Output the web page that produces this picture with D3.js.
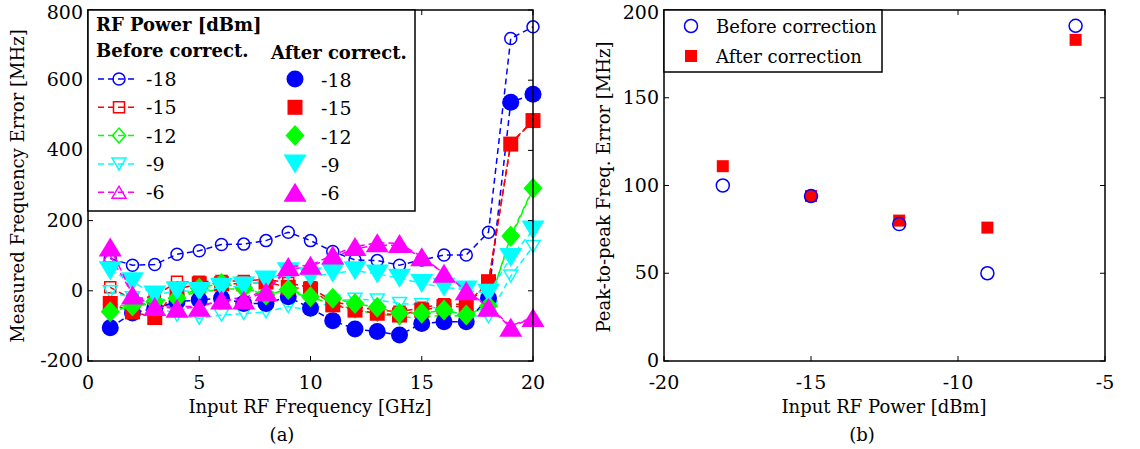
<!DOCTYPE html>
<html>
<head>
<meta charset="utf-8">
<script src="https://cdn.jsdelivr.net/npm/d3@7.9.0/dist/d3.min.js"></script>
<style>
  body { margin: 0; background: #fff; }
  svg { display: block; }
  text { font-family: "DejaVu Serif", serif; fill: #000; }
</style>
</head>
<body>
<svg id="chart" width="1140" height="449"></svg>
<script>
// ---- data (a): measured frequency error vs input RF frequency ----
const freqGHz = [1, 2, 3, 4, 5, 6, 7, 8, 9, 10, 11, 12, 13, 14, 15, 16, 17, 18, 19, 20];
const rfPowers = [-18, -15, -12, -9, -6];

const beforeM18 = [92, 73, 75, 104, 114, 132, 133, 143, 167, 143, 112, 88, 86, 73, 88, 102, 102, 167, 719, 752];
const beforeM15 = [10, -25, -15, 26, 26, 28, 28, 33, 22, 10, -30, -45, -55, -60, -48, -38, -38, 25, 420, 485];
const beforeM12 = [-40, -45, -35, -15, -5, 5, 5, -5, 0, -20, -35, -55, -65, -75, -75, -70, -72, -40, 150, 290];
const beforeM9 = [-3, -20, -40, -70, -78, -69, -65, -60, -45, -55, -30, -24, -26, -36, -40, -55, -70, -74, 42, 126];
const beforeM6 = [100, -10, -40, -45, -45, -25, -20, 0, 60, 70, 95, 120, 130, 130, 95, 50, 0, -45, -100, -75];

const afterM18 = [-105, -63, -50, -31, -26, -21, -36, -36, -17, -50, -85, -109, -116, -126, -93, -88, -88, -21, 537, 560];
const afterM15 = [-36, -60, -76, 5, 20, 20, 20, 25, 10, 5, -40, -55, -64, -69, -55, -45, -45, 26, 418, 485];
const afterM12 = [-60, -43, -31, -21, 8, 21, 8, -12, 4, -17, -21, -36, -47, -64, -64, -55, -69, -43, 156, 292];
const afterM9 = [57, 26, -12, 0, -2, 10, 14, 31, 54, 40, 50, 57, 48, 36, 21, 10, 2, -7, 95, 173];
const afterM6 = [125, -12, -45, -50, -47, -26, -26, -3, 69, 73, 102, 126, 137, 135, 97, 50, 0, -47, -104, -76];

// ---- data (b): peak-to-peak error vs input RF power ----
const ppBefore = [100, 94, 78, 50, 191];
const ppAfter = [111, 94, 80, 76, 183];

const colors = ['#0000ff', '#ff0000', '#00ff00', '#00ffff', '#ff00ff'];
const shapes = ['circle', 'square', 'diamond', 'triDown', 'triUp'];
const beforeSeries = [beforeM18, beforeM15, beforeM12, beforeM9, beforeM6];
const afterSeries = [afterM18, afterM15, afterM12, afterM9, afterM6];

const svg = d3.select('#chart');
const FS = 18;

// marker path, centred on (0,0); open markers are smaller than filled ones
function marker(shape, filled) {
  let p = d3.path();
  if (shape === 'circle') {
    let r = filled ? 8.5 : 6;
    p.arc(0, 0, r, 0, 2 * Math.PI);
  } else if (shape === 'square') {
    let s = filled ? 7.5 : 5.5;
    p.rect(-s, -s, 2 * s, 2 * s);
  } else if (shape === 'diamond') {
    let w = filled ? 9.5 : 6.5, h = filled ? 10.5 : 7.5;
    p.moveTo(0, -h); p.lineTo(w, 0); p.lineTo(0, h); p.lineTo(-w, 0); p.closePath();
  } else if (shape === 'triDown') {
    let w = filled ? 11.5 : 7, h = filled ? 9.5 : 6;
    p.moveTo(-w, -h); p.lineTo(w, -h); p.lineTo(0, h); p.closePath();
  } else {
    let w = filled ? 11.5 : 7, h = filled ? 9.5 : 6;
    p.moveTo(-w, h); p.lineTo(w, h); p.lineTo(0, -h); p.closePath();
  }
  return p.toString();
}

function drawMarker(g, x, y, shape, color, filled) {
  g.append('path')
    .attr('d', marker(shape, filled))
    .attr('transform', `translate(${x},${y})`)
    .attr('fill', filled ? color : 'none')
    .attr('stroke', filled ? 'none' : color)
    .attr('stroke-width', 1.5);
}

// box axes with inward ticks on all four sides, like MATLAB "box on"
function drawFrame(g, x, y, xTicks, yTicks) {
  let [x0, x1] = x.range();
  let [y1, y0] = y.range();
  let tl = 5;
  xTicks.forEach(t => {
    g.append('line').attr('x1', x(t)).attr('x2', x(t)).attr('y1', y1).attr('y2', y1 - tl)
      .attr('stroke', '#000');
    g.append('line').attr('x1', x(t)).attr('x2', x(t)).attr('y1', y0).attr('y2', y0 + tl)
      .attr('stroke', '#000');
    g.append('text').attr('x', x(t)).attr('y', y1 + 28).attr('text-anchor', 'middle')
      .attr('font-size', FS + 1).text(t);
  });
  yTicks.forEach(t => {
    g.append('line').attr('x1', x0).attr('x2', x0 + tl).attr('y1', y(t)).attr('y2', y(t))
      .attr('stroke', '#000');
    g.append('line').attr('x1', x1).attr('x2', x1 - tl).attr('y1', y(t)).attr('y2', y(t))
      .attr('stroke', '#000');
    // keep the top label inside the page
    g.append('text').attr('x', x0 - 5).attr('y', Math.max(y(t) + 6, 19)).attr('text-anchor', 'end')
      .attr('font-size', FS + 1).text(t);
  });
  g.append('rect').attr('x', x0).attr('y', y0).attr('width', x1 - x0).attr('height', y1 - y0)
    .attr('fill', 'none').attr('stroke', '#000').attr('stroke-width', 1.5);
}

// ================= (a) =================
const xA = d3.scaleLinear().domain([0, 20]).range([88, 533]);
const yA = d3.scaleLinear().domain([-200, 800]).range([361, 10]);
const gA = svg.append('g');

const line = d3.line().x((d, i) => xA(freqGHz[i])).y(d => yA(d));

[beforeSeries, afterSeries].forEach((group, gi) => {
  group.forEach((vals, si) => {
    gA.append('path').attr('d', line(vals)).attr('fill', 'none')
      .attr('stroke', colors[si]).attr('stroke-width', 1.5).attr('stroke-dasharray', '6,4');
    vals.forEach((v, i) => drawMarker(gA, xA(freqGHz[i]), yA(v), shapes[si], colors[si], gi === 1));
  });
});

drawFrame(gA, xA, yA, [0, 5, 10, 15, 20], [-200, 0, 200, 400, 600, 800]);

gA.append('text').attr('x', 310).attr('y', 413).attr('text-anchor', 'middle')
  .attr('font-size', FS).text('Input RF Frequency [GHz]');
gA.append('text').attr('x', 282).attr('y', 441).attr('text-anchor', 'middle')
  .attr('font-size', FS).text('(a)');
gA.append('text').attr('transform', 'translate(24,186) rotate(-90)').attr('text-anchor', 'middle')
  .attr('font-size', FS).text('Measured Frequency Error [MHz]');

// legend (a)
const lgA = gA.append('g');
lgA.append('rect').attr('x', 88).attr('y', 10).attr('width', 327).attr('height', 201)
  .attr('fill', '#fff').attr('stroke', '#000').attr('stroke-width', 1.5);
lgA.append('text').attr('x', 96).attr('y', 31).attr('font-size', FS).attr('font-weight', 'bold')
  .text('RF Power [dBm]');
lgA.append('text').attr('x', 96).attr('y', 57).attr('font-size', FS).attr('font-weight', 'bold')
  .text('Before correct.');
lgA.append('text').attr('x', 271).attr('y', 59).attr('font-size', FS).attr('font-weight', 'bold')
  .text('After correct.');
rfPowers.forEach((pw, si) => {
  let cy = 79 + si * 28.3;
  lgA.append('line').attr('x1', 98).attr('x2', 138).attr('y1', cy).attr('y2', cy)
    .attr('stroke', colors[si]).attr('stroke-width', 1.5).attr('stroke-dasharray', '6,4');
  drawMarker(lgA, 119, cy, shapes[si], colors[si], false);
  lgA.append('text').attr('x', 146).attr('y', cy + 7).attr('font-size', FS + 1).text(pw);
  drawMarker(lgA, 295, cy, shapes[si], colors[si], true);
  lgA.append('text').attr('x', 321).attr('y', cy + 8).attr('font-size', FS + 1).text(pw);
});

// ================= (b) =================
const xB = d3.scaleLinear().domain([-20, -5]).range([664, 1105]);
const yB = d3.scaleLinear().domain([0, 200]).range([361, 10]);
const gB = svg.append('g');

drawFrame(gB, xB, yB, [-20, -15, -10, -5], [0, 50, 100, 150, 200]);

rfPowers.forEach((pw, i) => {
  gB.append('rect').attr('x', xB(pw) - 6).attr('y', yB(ppAfter[i]) - 6)
    .attr('width', 12).attr('height', 12).attr('fill', '#ff0000');
  gB.append('circle').attr('cx', xB(pw)).attr('cy', yB(ppBefore[i])).attr('r', 6.5)
    .attr('fill', 'none').attr('stroke', '#0000ff').attr('stroke-width', 1.5);
});

gB.append('text').attr('x', 884).attr('y', 413).attr('text-anchor', 'middle')
  .attr('font-size', FS).text('Input RF Power [dBm]');
gB.append('text').attr('x', 862).attr('y', 441).attr('text-anchor', 'middle')
  .attr('font-size', FS).text('(b)');
gB.append('text').attr('transform', 'translate(610,187) rotate(-90)').attr('text-anchor', 'middle')
  .attr('font-size', FS).text('Peak-to-peak Freq. Error [MHz]');

// legend (b)
const lgB = gB.append('g');
lgB.append('rect').attr('x', 664).attr('y', 10).attr('width', 218).attr('height', 62)
  .attr('fill', '#fff').attr('stroke', '#000').attr('stroke-width', 1.5);
lgB.append('circle').attr('cx', 691).attr('cy', 26).attr('r', 6.5)
  .attr('fill', 'none').attr('stroke', '#0000ff').attr('stroke-width', 1.5);
lgB.append('text').attr('x', 716).attr('y', 33).attr('font-size', FS).text('Before correction');
lgB.append('rect').attr('x', 685).attr('y', 50).attr('width', 12).attr('height', 12).attr('fill', '#ff0000');
lgB.append('text').attr('x', 716).attr('y', 63).attr('font-size', FS).text('After correction');
</script>
</body>
</html>
